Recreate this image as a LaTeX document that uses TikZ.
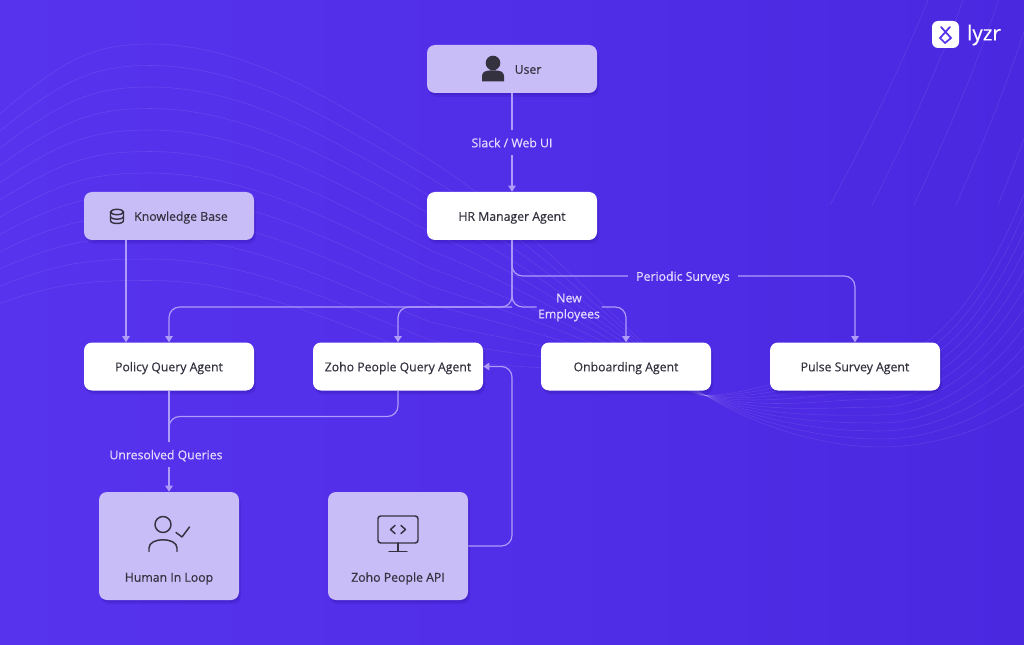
\documentclass[tikz,border=0pt]{standalone}
\usepackage{fontspec}
\setmainfont{Open Sans}[RawFeature={embolden=0.35}]
\usetikzlibrary{arrows.meta,shadows}
\definecolor{bgleft}{HTML}{5733EE}
\definecolor{bgright}{HTML}{4A28E0}
\definecolor{pale}{HTML}{C9BDF8}
\definecolor{wire}{HTML}{AE9CFA}
\definecolor{ink}{HTML}{35323F}
\definecolor{tag}{HTML}{E3DCFF}
\definecolor{shade}{HTML}{2F14A8}
\tikzset{
box/.style={rectangle,rounded corners=6pt,minimum width=127.5pt,minimum height=36pt,inner sep=0pt,text=ink,font=\fontsize{9.2}{11}\selectfont,text height=8pt,text depth=.8pt,drop shadow={shadow xshift=1.5pt,shadow yshift=-3pt,opacity=.2,fill=shade},drop shadow={shadow xshift=.75pt,shadow yshift=-1.5pt,opacity=.2,fill=shade}},
agent/.style={box,fill=white},
source/.style={box,fill=pale},
tool/.style={box,fill=pale,minimum width=105pt,minimum height=81pt},
tag/.style={text=tag,font=\fontsize{9.2}{12}\selectfont,inner xsep=6pt,inner ysep=0pt,minimum height=18pt,align=center},
flow/.style={draw=wire,line width=.9pt,rounded corners=8pt},
go/.style={flow,-{Triangle[width=5.5pt,length=4.5pt]}},
icon/.style={draw=ink,line width=1.1pt,line cap=round,line join=round},
wave/.style={draw=white,line width=.4pt,opacity=.1}
}
\begin{document}
\begin{tikzpicture}[x=.75pt,y=-.75pt]
\useasboundingbox (0,0) rectangle (1024,645);
\shade[left color=bgleft,right color=bgright] (0,0) rectangle (1024,645);
\begin{scope}
\clip (0,0) rectangle (1024,645);
\foreach \i in {0,...,11}{
\draw[wave] (-5,{118+\i*17}) .. controls (60,{62+\i*20}) and (90,{44+\i*21.5}) .. (150,{44+\i*21.5}) .. controls (250,{44+\i*21.5}) and (340,{105+\i*20}) .. (430,{160+\i*18}) .. controls (540,{230+\i*13}) and (620,{330+\i*3}) .. (700,{392+\i*.3}) .. controls (760,{430-\i*3}) and (830,{447-\i*8}) .. (880,{447-\i*8}) .. controls (940,{447-\i*8}) and (1000,{425-\i*14}) .. (1040,{392-\i*22});
}
\foreach \i in {0,...,6}{
\draw[wave] ({830+\i*42},205) .. controls ({860+\i*40},150) and ({900+\i*38},70) .. ({930+\i*35},-5);
}
\end{scope}

\node[source] at (512,69) (user) {\hspace*{24pt}User}; \node[agent] at (512,216) (hr) {HR Manager Agent}; \node[source] at (169,216) (kb) {\hspace*{18pt}Knowledge Base};
\node[agent] at (169,366.5) (policy) {Policy Query Agent}; \node[agent] at (398,366.5) (zohoq) {Zoho People Query Agent}; \node[agent] at (626,366.5) (onboard) {Onboarding Agent}; \node[agent] at (855,366.5) (pulse) {Pulse Survey Agent};
\node[tool] at (169,546) (human) {\smash{\raisebox{-23.2pt}{Human In Loop}}}; \node[tool] at (398,546) (api) {\smash{\raisebox{-23.2pt}{Zoho People API}}};
\node[tag,text height=8pt,text depth=.8pt] at (512,142.5) (slack) {Slack / Web UI}; \node[tag,text height=8pt,text depth=.8pt] at (683,276) (periodic) {Periodic Surveys}; \node[tag,inner xsep=1pt] at (569,307.5) (newemp) {New\\Employees}; \node[tag,text height=8pt,text depth=.8pt] at (166,454.5) (unres) {Unresolved Queries};

\draw[flow] (user) -- (slack); \draw[go] (slack) -- (hr);
\draw[go] ([xshift=-32.25pt]kb.south) -- ([xshift=-32.25pt]policy.north);
\draw[go] (hr.south) -- (512,307) -- (169,307) -- (policy.north);
\draw[go] (512,307) -- (398,307) -- (zohoq.north);
\draw[flow] (hr.south) -- (512,307) -- (newemp.west |- 0,307); \draw[go] (newemp.east |- 0,307) -- (626,307) -- (onboard.north);
\draw[flow] (hr.south) -- (512,276) -- (periodic.west); \draw[go] (periodic.east) -- (855,276) -- (pulse.north);
\draw[flow] (policy.south) -- (policy.south |- unres.north); \draw[go] (human.north |- unres.south) -- (human.north);
\draw[flow] (zohoq.south) -- (398,416.5) -- (169,416.5) -- (policy.south |- unres.north);
\draw[go] (api.east) -- (512,546) -- (512,366.5) -- (zohoq.east);

\fill[ink] (493,63) circle (5.5pt);
\fill[ink] (482,81.5) -- (482,76) .. controls (482,72) and (486,70.5) .. (490,70.5) -- (496,70.5) .. controls (500,70.5) and (504,72) .. (504,76) -- (504,81.5) -- cycle;
\draw[icon] (110.5,212) -- (110.5,220.5) .. controls (110.5,224.5) and (123.5,224.5) .. (123.5,220.5) -- (123.5,212);
\draw[icon] (117,212) ellipse (4.9pt and 2pt);
\draw[icon] (110.5,216.5) .. controls (110.5,220) and (123.5,220) .. (123.5,216.5);
\draw[icon] (163,524.5) circle (6pt);
\draw[icon] (149,551.5) -- (149,548) .. controls (149,537) and (177,537) .. (177,548) -- (177,551.5);
\draw[icon] (176,532.5) -- (182,537) -- (189.5,527);
\draw[icon,rounded corners=2pt] (378,516) rectangle (418,543);
\draw[icon] (398,543) -- (398,551.5) (389,551.5) -- (407,551.5);
\draw[icon] (395,525.5) -- (390.5,529.5) -- (395,533.5) (401,525.5) -- (405.5,529.5) -- (401,533.5);

\fill[white,rounded corners=4.5pt] (932,21) rectangle (959,48);
\draw[bgleft,line width=1.3pt,line cap=round] (941,27) -- (951,38) -- (945,43) -- (940,38) -- (950,27);
\node[text=white,font=\fontsize{15.5}{18}\selectfont,inner sep=0pt] at (984,35) (logo) {lyzr};
\end{tikzpicture}
\end{document}
